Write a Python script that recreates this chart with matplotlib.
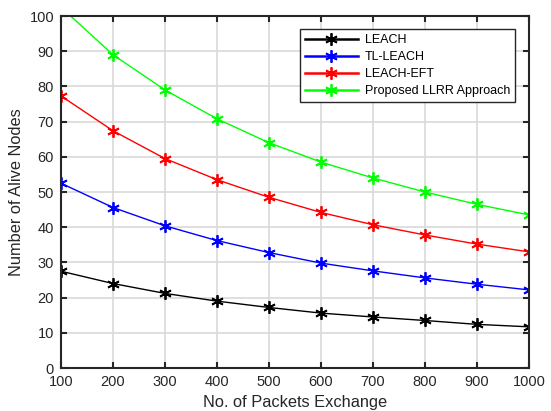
import numpy as np
import matplotlib.pyplot as plt

plt.rcParams['font.family'] = ['Liberation Sans', 'DejaVu Sans']

# packets exchanged (x axis)
packets = [100, 200, 300, 400, 500, 600, 700, 800, 900, 1000]

# alive nodes per protocol
leach = [27.5, 24.0, 21.2, 19.0, 17.2, 15.6, 14.5, 13.5, 12.4, 11.7]
tl_leach = [52.5, 45.6, 40.4, 36.2, 32.8, 29.8, 27.6, 25.6, 23.8, 22.2]
leach_eft = [77.3, 67.4, 59.5, 53.5, 48.5, 44.2, 40.7, 37.8, 35.2, 33.0]
llrr = [102.5, 89.0, 79.0, 70.8, 64.0, 58.5, 54.0, 50.0, 46.5, 43.5]

labels = ["LEACH", "TL-LEACH", "LEACH-EFT", "Proposed LLRR Approach"]
colors = ["black", "blue", "red", "#00ff00"]

fig = plt.figure(figsize=(5.51, 4.11), dpi=100)
ax = fig.add_axes([0.1107, 0.1046, 0.8493, 0.8564])

# matlab style asterisk marker
for ys, lab, c in zip([leach, tl_leach, leach_eft, llrr], labels, colors):
    ax.plot(packets, ys, color=c, marker=(6, 2, 0), markersize=9, markeredgewidth=1.3,
            linewidth=1.0, label=lab)

ax.set_xlim(100, 1000)
ax.set_ylim(0, 100)
ax.set_xticks(np.arange(100, 1001, 100))
ax.set_yticks(np.arange(0, 101, 10))
ax.grid(True, color="#d9d9d9", linewidth=1.2)
ax.set_axisbelow(True)
ax.tick_params(direction="in", length=4, width=1.5, colors="#262626",
               labelsize=10.5, top=True, right=True, pad=5)
for s in ax.spines.values():
    s.set_linewidth(1.5)
    s.set_color("#262626")

ax.set_xlabel("No. of Packets Exchange", fontsize=11.8, color="#262626", labelpad=4)
ax.set_ylabel("Number of Alive Nodes", fontsize=11.8, color="#262626", labelpad=4)

leg = ax.legend(loc="upper right", bbox_to_anchor=(0.97, 0.962), fontsize=9,
                frameon=True, fancybox=False, handlelength=4.3, borderpad=0.4,
                labelspacing=0.4, handletextpad=0.5, borderaxespad=0)
leg.get_frame().set_edgecolor("#262626")
leg.get_frame().set_linewidth(1.0)
leg.get_frame().set_alpha(1)
# legend sample lines are a bit thicker in the reference
for h in leg.get_lines():
    h.set_linewidth(1.8)

plt.savefig("out.png", dpi=100)
